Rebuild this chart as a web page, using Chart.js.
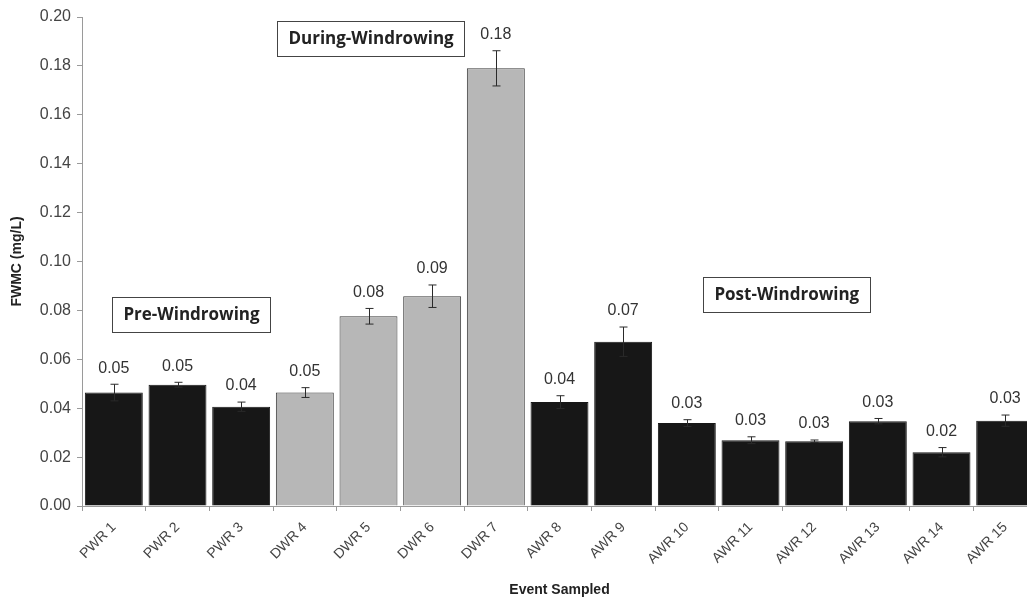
<!DOCTYPE html>
<html>
<head>
<meta charset="utf-8">
<script src="https://cdn.jsdelivr.net/npm/chart.js@4.4.1/dist/chart.umd.min.js"></script>
<style>
  html, body { margin: 0; padding: 0; background: #ffffff; overflow: hidden; }
  #wrap { width: 1045px; height: 603px; position: relative; }
</style>
</head>
<body>
<div id="wrap"><canvas id="c" width="1045" height="603"></canvas></div>
<script>
// Flow-weighted mean concentration per sampled event
const categories = ['PWR 1', 'PWR 2', 'PWR 3', 'DWR 4', 'DWR 5', 'DWR 6', 'DWR 7',
  'AWR 8', 'AWR 9', 'AWR 10', 'AWR 11', 'AWR 12', 'AWR 13', 'AWR 14', 'AWR 15'];
const fwmc = [0.0464, 0.0496, 0.0406, 0.0464, 0.0776, 0.0858, 0.1790,
  0.0425, 0.0672, 0.0339, 0.0269, 0.0265, 0.0347, 0.0220, 0.0349];
const errors = [0.0034, 0.0010, 0.0019, 0.0020, 0.0032, 0.0046, 0.0072,
  0.0026, 0.0060, 0.0014, 0.0014, 0.0005, 0.0011, 0.0019, 0.0023];
// phase of each event: P = pre, D = during, A = after windrowing
const phases = ['P', 'P', 'P', 'D', 'D', 'D', 'D', 'A', 'A', 'A', 'A', 'A', 'A', 'A', 'A'];
const yTicks = [0, 0.02, 0.04, 0.06, 0.08, 0.10, 0.12, 0.14, 0.16, 0.18, 0.20];

// phase captions: [text, category position, value]
const phaseNotes = [
  ['Pre-Windrowing', 1.22, 0.0783],
  ['During-Windrowing', 4.04, 0.1914],
  ['Post-Windrowing', 10.57, 0.0865]
];

const fillFor = p => (p === 'D' ? '#b7b7b7' : '#171717');
const edgeFor = p => (p === 'D' ? '#3a3a3a' : '#171717');

const errorBars = {
  id: 'errorBars',
  afterDatasetsDraw(chart) {
    const { ctx, scales: { y } } = chart;
    const meta = chart.getDatasetMeta(0);
    ctx.save();
    ctx.strokeStyle = '#2a2a2a';
    ctx.lineWidth = 1;
    meta.data.forEach((bar, i) => {
      const x = Math.round(bar.x) + 0.5;
      const top = y.getPixelForValue(fwmc[i] + errors[i]);
      const bot = y.getPixelForValue(fwmc[i] - errors[i]);
      ctx.beginPath();
      ctx.moveTo(x, top); ctx.lineTo(x, bot);
      ctx.moveTo(x - 4, top); ctx.lineTo(x + 4, top);
      ctx.moveTo(x - 4, bot); ctx.lineTo(x + 4, bot);
      ctx.stroke();
      // value label above the error bar
      ctx.fillStyle = '#333333';
      ctx.font = '16px "Liberation Sans", Arial, sans-serif';
      ctx.textAlign = 'center';
      ctx.textBaseline = 'middle';
      ctx.fillText(fwmc[i].toFixed(2), bar.x, top - 16);
    });
    ctx.restore();
  }
};

const phaseBoxes = {
  id: 'phaseBoxes',
  afterDatasetsDraw(chart) {
    const { ctx, scales: { x, y } } = chart;
    ctx.save();
    ctx.font = 'bold 17px "Open Sans", "DejaVu Sans", sans-serif';
    ctx.textAlign = 'center';
    ctx.textBaseline = 'middle';
    phaseNotes.forEach(([text, cat, val]) => {
      const cx = x.getPixelForValue(cat);
      const cy = y.getPixelForValue(val);
      const w = ctx.measureText(text).width + 22;
      const h = 35;
      ctx.fillStyle = '#ffffff';
      ctx.fillRect(cx - w / 2, cy - h / 2, w, h);
      ctx.strokeStyle = '#444444';
      ctx.lineWidth = 1;
      ctx.strokeRect(Math.round(cx - w / 2) + 0.5, Math.round(cy - h / 2) + 0.5, Math.round(w), h);
      ctx.fillStyle = '#222222';
      ctx.fillText(text, cx, cy + 1);
    });
    ctx.restore();
  }
};

new Chart(document.getElementById('c'), {
  type: 'bar',
  data: {
    labels: categories,
    datasets: [{
      data: fwmc,
      backgroundColor: phases.map(fillFor),
      borderColor: phases.map(edgeFor),
      borderWidth: 1,
      barPercentage: 0.91,
      categoryPercentage: 1.0
    }]
  },
  options: {
    responsive: false,
    animation: false,
    devicePixelRatio: 1,
    layout: { padding: { top: 17, right: 8, left: 0, bottom: 0 } },
    plugins: { legend: { display: false }, tooltip: { enabled: false } },
    scales: {
      x: {
        grid: { display: true, drawOnChartArea: false, drawTicks: true, tickLength: 5, color: '#9a9a9a', offset: true },
        border: { display: true, color: '#9a9a9a' },
        ticks: {
          color: '#444444',
          font: { family: '"Liberation Sans", Arial, sans-serif', size: 14 },
          minRotation: 45, maxRotation: 45, autoSkip: false, padding: 8
        },
        title: {
          display: true, text: 'Event Sampled', color: '#222222',
          font: { family: '"Liberation Sans", Arial, sans-serif', size: 14, weight: 'bold' },
          padding: { top: 4, bottom: 4 }
        },
        afterFit(scale) { scale.height = 97; }
      },
      y: {
        min: 0, max: 0.2,
        afterBuildTicks(scale) { scale.ticks = yTicks.map(v => ({ value: v })); },
        grid: { display: true, drawOnChartArea: false, drawTicks: true, tickLength: 5, color: '#9a9a9a' },
        border: { display: true, color: '#9a9a9a' },
        ticks: {
          color: '#444444', padding: 6,
          font: { family: '"Liberation Sans", Arial, sans-serif', size: 16 },
          callback: v => Number(v).toFixed(2)
        },
        title: {
          display: true, text: 'FWMC (mg/L)', color: '#222222',
          font: { family: '"Liberation Sans", Arial, sans-serif', size: 14, weight: 'bold' },
          padding: { top: 9, bottom: 0 }
        },
        afterFit(scale) { scale.width = 82; }
      }
    }
  },
  plugins: [errorBars, phaseBoxes]
});
</script>
</body>
</html>
